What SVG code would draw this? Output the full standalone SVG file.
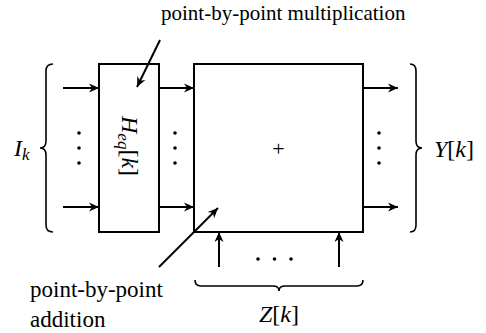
<svg xmlns="http://www.w3.org/2000/svg" width="486" height="333" viewBox="0 0 486 333">
<style>
.bx{stroke:#000;stroke-width:2;fill:#fff}
.arr{stroke:#000;stroke-width:2;fill:none;marker-end:url(#ah)}
.br{stroke:#000;stroke-width:1.6;fill:none}
.dot{fill:#000}
</style>
<defs>
<marker id="ah" markerUnits="userSpaceOnUse" viewBox="-11 -6 12 12" refX="0" refY="0" markerWidth="12" markerHeight="12" orient="auto">
<path d="M0,0 L-10,-4.5 L-7,0 L-10,4.5 Z" fill="#000"/>
</marker>
</defs>
<g font-family="Liberation Serif, serif" fill="#000">
<g id="heq">
<rect class="bx" x="99" y="64" width="60" height="168"/>
<text font-style="italic" font-size="24" transform="translate(122,116) rotate(90)">H<tspan font-size="17" dy="4">eq</tspan><tspan font-style="normal" dy="-4">[</tspan>k<tspan font-style="normal">]</tspan></text>
</g>
<g id="sum">
<rect class="bx" x="194" y="64" width="169" height="168"/>
<text font-size="22" x="278.5" y="155.5" text-anchor="middle">+</text>
</g>
<g id="connectors">
<line class="arr" x1="63" y1="88" x2="99" y2="88"/>
<line class="arr" x1="63" y1="207" x2="99" y2="207"/>
<line class="arr" x1="159" y1="88" x2="194" y2="88"/>
<line class="arr" x1="159" y1="207" x2="194" y2="207"/>
<line class="arr" x1="363" y1="88" x2="398" y2="88"/>
<line class="arr" x1="363" y1="207" x2="398" y2="207"/>
<line class="arr" x1="219" y1="267" x2="219" y2="232"/>
<line class="arr" x1="339" y1="267" x2="339" y2="232"/>
<line class="arr" x1="160" y1="40" x2="137" y2="87"/>
<line class="arr" x1="159" y1="267" x2="218" y2="208"/>
</g>
<g id="dots">
<circle class="dot" cx="79" cy="133" r="1.8"/><circle class="dot" cx="79" cy="148" r="1.8"/><circle class="dot" cx="79" cy="163" r="1.8"/>
<circle class="dot" cx="175" cy="133" r="1.8"/><circle class="dot" cx="175" cy="148" r="1.8"/><circle class="dot" cx="175" cy="163" r="1.8"/>
<circle class="dot" cx="379" cy="133" r="1.8"/><circle class="dot" cx="379" cy="148" r="1.8"/><circle class="dot" cx="379" cy="163" r="1.8"/>
<circle class="dot" cx="258" cy="259" r="1.8"/><circle class="dot" cx="274.5" cy="259" r="1.8"/><circle class="dot" cx="291" cy="259" r="1.8"/>
</g>
<g id="input">
<path class="br" d="M53,64 Q46,64 46,71 L46,141 Q46,148 40,148 Q46,148 46,155 L46,225 Q46,232 53,232"/>
<text font-style="italic" font-size="24" x="14" y="156">I<tspan font-size="17" dy="4">k</tspan></text>
</g>
<g id="output">
<path class="br" d="M410,64 Q416,64 416,71 L416,141 Q416,148 422,148 Q416,148 416,155 L416,225 Q416,232 410,232"/>
<text font-style="italic" font-size="24" x="434" y="157">Y<tspan font-style="normal">[</tspan>k<tspan font-style="normal">]</tspan></text>
</g>
<g id="noise">
<path class="br" d="M195,280 Q195,286 201,286 L273,286 Q279,286 279,291 Q279,286 285,286 L357,286 Q363,286 363,280"/>
<text font-style="italic" font-size="24" x="279" y="322" text-anchor="middle">Z<tspan font-style="normal">[</tspan>k<tspan font-style="normal">]</tspan></text>
</g>
<g id="labels">
<text font-size="21" x="161" y="20">point-by-point multiplication</text>
<text font-size="23" x="30" y="297">point-by-point</text>
<text font-size="23" x="30" y="327">addition</text>
</g>
</g>
</svg>
